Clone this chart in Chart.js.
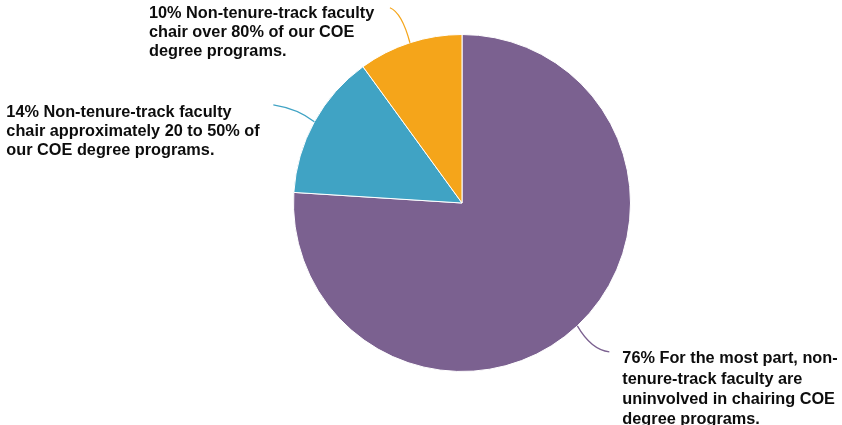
<!DOCTYPE html>
<html lang="en">
<head>
<meta charset="UTF-8">
<title>Non-tenure-track faculty chairing COE programs</title>
<script src="https://cdn.jsdelivr.net/npm/chart.js@4.4.1/dist/chart.umd.min.js"></script>
<style>
  html, body { margin: 0; padding: 0; background: #fff; }
  #wrap { width: 842px; height: 425px; position: relative; }
</style>
</head>
<body>
<div id="wrap"><canvas id="chart"></canvas></div>
<script>
// data
const categories = [
  ['76% For the most part, non-', 'tenure-track faculty are', 'uninvolved in chairing COE', 'degree programs.'],
  ['14% Non-tenure-track faculty', 'chair approximately 20 to 50% of', 'our COE degree programs.'],
  ['10% Non-tenure-track faculty', 'chair over 80% of our COE', 'degree programs.']
];
const shares = [76, 14, 10];
const colors = ['#7b6190', '#40a3c4', '#f5a51a'];

// leader line: end offset from slice edge point, control point offset, text box offset from end
const leaders = [
  { end: [32, 26], ctrl: [14, 24], text: [13, 11.5], lh: 20.3 },
  { end: [-41, -17], ctrl: [-16, -13], text: [-267, 12], lh: 19.2 },
  { end: [-20, -35], ctrl: [-8, -30], text: [-241, 10.5], lh: 19 }
];

const leaderLabels = {
  id: 'leaderLabels',
  afterDatasetsDraw(chart) {
    const ctx = chart.ctx;
    const meta = chart.getDatasetMeta(0);
    meta.data.forEach((arc, i) => {
      const p = arc.getProps(['x', 'y', 'startAngle', 'endAngle', 'outerRadius'], true);
      const mid = (p.startAngle + p.endAngle) / 2;
      const sx = p.x + Math.cos(mid) * p.outerRadius;
      const sy = p.y + Math.sin(mid) * p.outerRadius;
      const L = leaders[i];
      const ex = sx + L.end[0], ey = sy + L.end[1];
      ctx.save();
      ctx.strokeStyle = colors[i];
      ctx.lineWidth = 1.3;
      ctx.beginPath();
      ctx.moveTo(sx, sy);
      ctx.quadraticCurveTo(sx + L.ctrl[0], sy + L.ctrl[1], ex, ey);
      ctx.stroke();
      ctx.fillStyle = '#0d0d0d';
      ctx.font = 'bold 16.3px "Liberation Sans", Arial, sans-serif';
      ctx.textAlign = 'left';
      ctx.textBaseline = 'alphabetic';
      categories[i].forEach((line, j) => {
        ctx.fillText(line, ex + L.text[0], ey + L.text[1] + j * L.lh);
      });
      ctx.restore();
    });
  }
};

new Chart(document.getElementById('chart'), {
  type: 'pie',
  data: {
    labels: categories.map(c => c.join(' ')),
    datasets: [{
      data: shares,
      backgroundColor: colors,
      borderColor: '#ffffff',
      borderWidth: 1
    }]
  },
  options: {
    responsive: true,
    maintainAspectRatio: false,
    animation: false,
    layout: { padding: { top: 34, bottom: 53, left: 293, right: 211 } },
    plugins: {
      legend: { display: false },
      tooltip: { enabled: false }
    }
  },
  plugins: [leaderLabels]
});
</script>
</body>
</html>
